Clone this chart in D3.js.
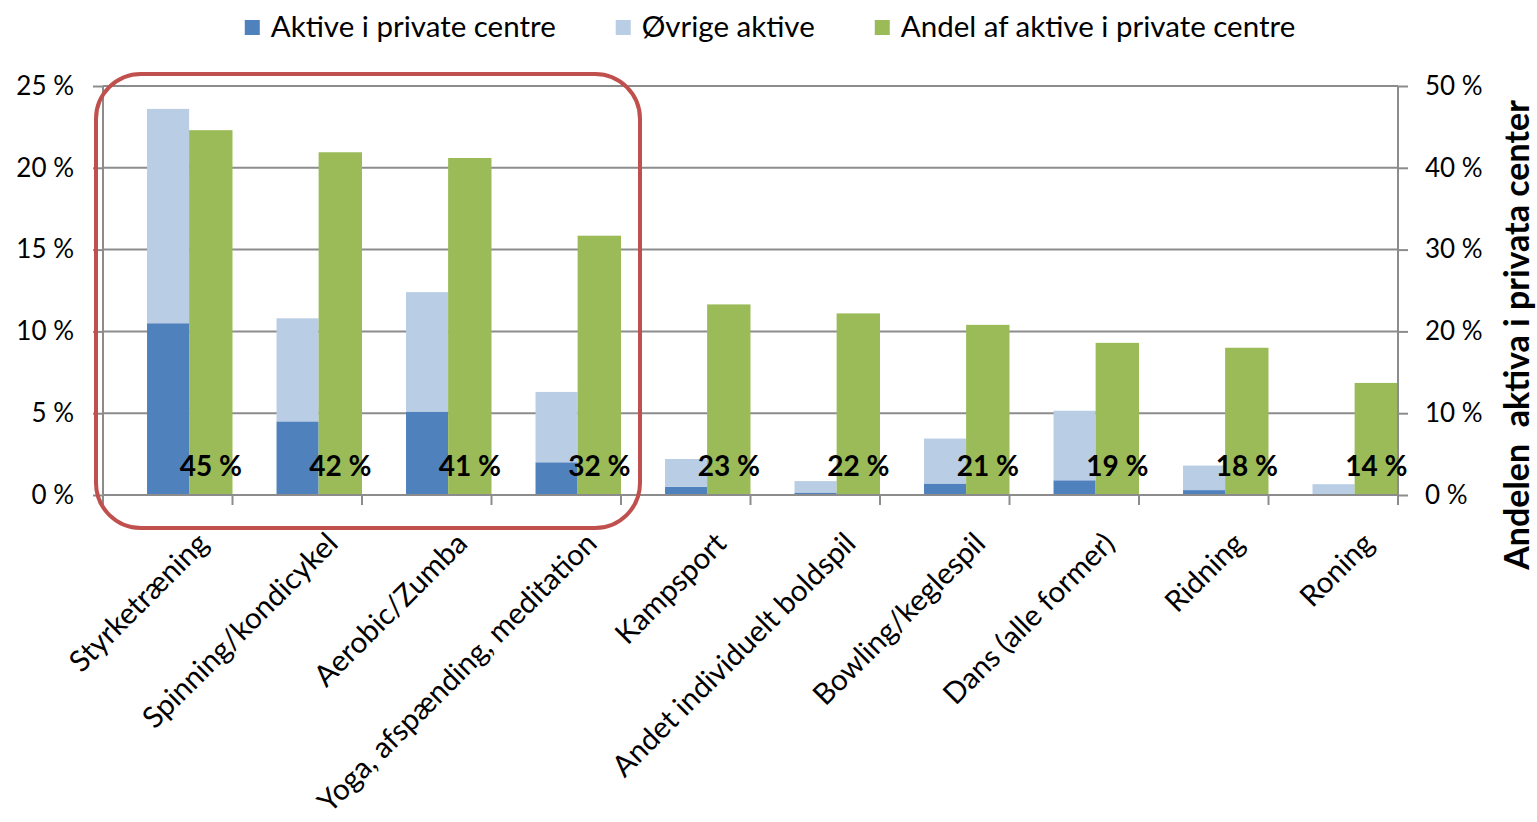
<!DOCTYPE html>
<html lang="da">
<head>
<meta charset="utf-8">
<title>Aktive i private centre</title>
<script src="https://cdn.jsdelivr.net/npm/d3@7/dist/d3.min.js"></script>
<style>
  html, body { margin: 0; padding: 0; background: #ffffff; }
  svg { display: block; font-family: Lato, "Open Sans", sans-serif; }
</style>
</head>
<body>
<svg id="chart" width="1537" height="822"></svg>
<script>
// Activities
const categories = [
  "Styrketræning",
  "Spinning/kondicykel",
  "Aerobic/Zumba",
  "Yoga, afspænding, meditation",
  "Kampsport",
  "Andet individuelt boldspil",
  "Bowling/keglespil",
  "Dans (alle former)",
  "Ridning",
  "Roning"
];

// Share of population active in private centres (%), left axis
const privateActive = [10.5, 4.5, 5.1, 2.0, 0.5, 0.15, 0.7, 0.9, 0.3, 0.06];
// Other actives (%), stacked on top, left axis
const otherActive = [13.1, 6.3, 7.3, 4.3, 1.7, 0.7, 2.75, 4.25, 1.5, 0.6];
// Share of actives who use private centres (%), right axis
const shareInPrivate = [44.6, 41.9, 41.2, 31.7, 23.3, 22.2, 20.8, 18.6, 18.0, 13.7];

const leftTicks = [0, 5, 10, 15, 20, 25];
const rightTicks = [0, 10, 20, 30, 40, 50];

const seriesNames = ["Aktive i private centre", "Øvrige aktive", "Andel af aktive i private centre"];
const seriesColors = ["#4f81bd", "#b9cde5", "#9bbb59"];
const rightTitle = "Andelen  aktiva i privata center";

const svg = d3.select("#chart");
const margin = { left: 103, right: 139, top: 86, bottom: 327 };
const W = 1537, H = 822;
const x0 = margin.left, x1 = W - margin.right;
const yTop = margin.top, yBot = H - margin.bottom;

const x = d3.scaleBand().domain(categories).range([x0, x1]).padding(0);
const yL = d3.scaleLinear().domain([0, 25]).range([yBot, yTop]);
const yR = d3.scaleLinear().domain([0, 50]).range([yBot, yTop]);
const bw = x.bandwidth();

const gridColor = "#8c8c8c";
const pct = v => d3.format("d")(v) + " %";

// Horizontal gridlines
svg.append("g")
  .selectAll("line")
  .data(leftTicks)
  .join("line")
  .attr("x1", x0).attr("x2", x1)
  .attr("y1", d => yL(d)).attr("y2", d => yL(d))
  .attr("stroke", gridColor).attr("stroke-width", 2);

// Stacked bars (left axis)
const stackData = categories.map((c, i) => ({ cat: c, priv: privateActive[i], other: otherActive[i] }));
const stacked = d3.stack().keys(["priv", "other"])(stackData);
const barX = c => x(c) + bw * 0.34;
const barW = bw * 0.325;

svg.append("g")
  .selectAll("g")
  .data(stacked)
  .join("g")
  .attr("fill", (d, i) => seriesColors[i])
  .selectAll("rect")
  .data(d => d)
  .join("rect")
  .attr("x", d => barX(d.data.cat))
  .attr("width", barW)
  .attr("y", d => yL(d[1]))
  .attr("height", d => yL(d[0]) - yL(d[1]));

// Share bars (right axis)
const greenX = c => x(c) + bw * 0.665;
const greenW = bw * 0.335;
svg.append("g")
  .attr("fill", seriesColors[2])
  .selectAll("rect")
  .data(shareInPrivate)
  .join("rect")
  .attr("x", (d, i) => greenX(categories[i]))
  .attr("width", greenW)
  .attr("y", d => yR(d))
  .attr("height", d => yR(0) - yR(d));

// Axes
const leftAxis = d3.axisLeft(yL).tickValues(leftTicks).tickFormat(pct).tickSize(10).tickPadding(19);
const rightAxis = d3.axisRight(yR).tickValues(rightTicks).tickFormat(pct).tickSize(10).tickPadding(17);

function styleAxis(g) {
  g.select(".domain").attr("stroke", gridColor).attr("stroke-width", 2);
  g.selectAll(".tick line").attr("stroke", gridColor).attr("stroke-width", 2);
  g.selectAll(".tick text").attr("fill", "#000").style("font-size", "26px").style("font-family", "Lato, sans-serif");
}

svg.append("g").attr("transform", `translate(${x0},0)`).call(leftAxis).call(styleAxis)
  .call(g => g.select(".domain").attr("d", `M0,${yTop}V${yBot + 10}`));
svg.append("g").attr("transform", `translate(${x1},0)`).call(rightAxis).call(styleAxis)
  .call(g => g.select(".domain").attr("d", `M0,${yTop}V${yBot}`));

// Category axis baseline and tick marks at band boundaries
const xAxisG = svg.append("g").attr("transform", `translate(0,${yBot})`);
xAxisG.append("line").attr("x1", x0).attr("x2", x1).attr("stroke", gridColor).attr("stroke-width", 2);
xAxisG.selectAll("line.tk")
  .data(categories.map(c => x(c)).concat([x1]))
  .join("line").attr("class", "tk")
  .attr("x1", d => d).attr("x2", d => d)
  .attr("y1", 0).attr("y2", 10)
  .attr("stroke", gridColor).attr("stroke-width", 2);

// Rotated category labels
xAxisG.selectAll("text")
  .data(categories)
  .join("text")
  .attr("transform", d => `translate(${x(d) + bw / 2 + 35},${43}) rotate(-45)`)
  .attr("text-anchor", "end")
  .attr("dy", "0.35em")
  .style("font-size", "29.5px")
  .attr("fill", "#000")
  .text(d => d);

// Data labels for the share series
svg.append("g")
  .selectAll("text")
  .data(shareInPrivate)
  .join("text")
  .attr("x", (d, i) => greenX(categories[i]) + greenW / 2)
  .attr("y", yBot - 19)
  .attr("text-anchor", "middle")
  .style("font-size", "28px")
  .style("font-weight", "bold")
  .attr("fill", "#000")
  .text(d => pct(Math.round(d)));

// Right axis title
svg.append("text")
  .attr("transform", `translate(${1517},${335}) rotate(-90)`)
  .attr("text-anchor", "middle")
  .attr("dy", "0.35em")
  .style("font-size", "34px")
  .style("font-weight", "bold")
  .style("white-space", "pre")
  .attr("xml:space", "preserve")
  .text(rightTitle);

// Legend
const legend = svg.append("g");
const items = legend.selectAll("g").data(seriesNames).join("g");
items.append("rect").attr("width", 15).attr("height", 15).attr("y", 20).attr("fill", (d, i) => seriesColors[i]);
items.append("text").attr("x", 26).attr("y", 37).style("font-size", "29.5px").attr("fill", "#000").text(d => d);
const widths = [];
items.each(function () {
  widths.push(this.querySelector("text").getComputedTextLength() + 26);
});
const gap = 60;
const total = d3.sum(widths) + gap * (widths.length - 1);
let cursor = 770 - total / 2;
items.attr("transform", (d, i) => {
  const t = `translate(${cursor},0)`;
  cursor += widths[i] + gap;
  return t;
});

// Highlight frame around the four leading activities
const fx0 = x(categories[0]) - 7;
const fx1 = x(categories[3]) + bw + 19;
svg.append("rect")
  .attr("x", fx0).attr("y", 74)
  .attr("width", fx1 - fx0).attr("height", 528 - 74)
  .attr("rx", 45).attr("ry", 45)
  .attr("fill", "none")
  .attr("stroke", "#c0504d")
  .attr("stroke-width", 4);
</script>
</body>
</html>
